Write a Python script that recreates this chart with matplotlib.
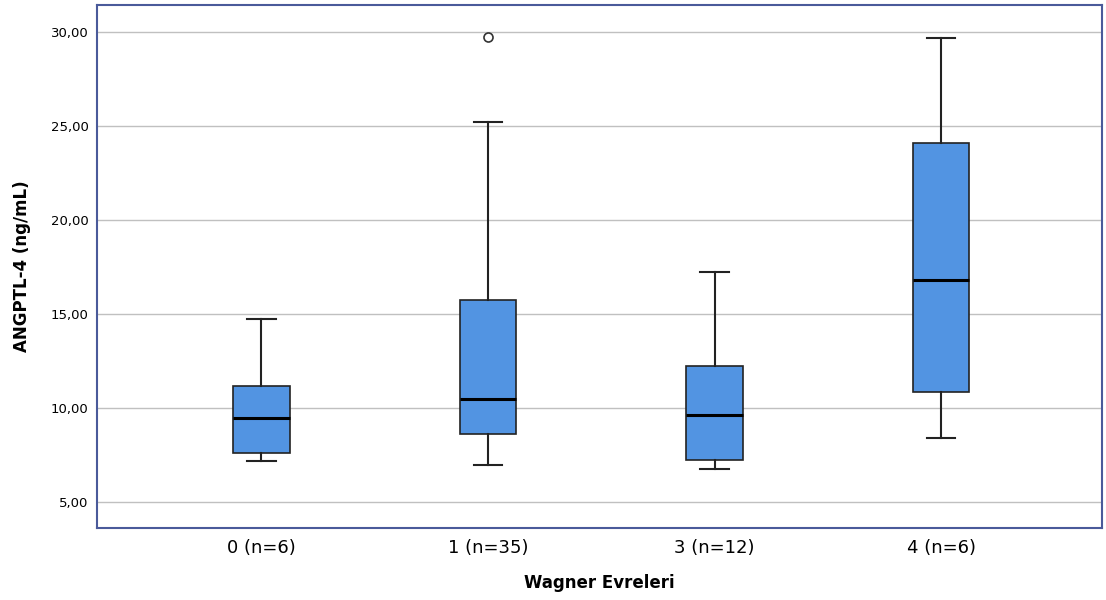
import matplotlib
matplotlib.use('Agg')
import matplotlib.pyplot as plt
from matplotlib.ticker import FuncFormatter

categories = ['0 (n=6)', '1 (n=35)', '3 (n=12)', '4 (n=6)']
whislo = [7.18, 6.97, 6.76, 8.40]
q1 = [7.60, 8.62, 7.23, 10.85]
med = [9.47, 10.48, 9.63, 16.81]
q3 = [11.17, 15.74, 12.23, 24.10]
whishi = [14.73, 25.21, 17.23, 29.68]
fliers = [[], [29.73], [], []]

stats = []
for i, lab in enumerate(categories):
    stats.append({'label': lab, 'whislo': whislo[i], 'q1': q1[i], 'med': med[i],
                  'q3': q3[i], 'whishi': whishi[i], 'fliers': fliers[i]})

fig = plt.figure(figsize=(11.06, 6), dpi=100)
ax = fig.add_axes([0.0877, 0.12, 0.9087, 0.8717])

positions = [1, 2, 3, 4]
ax.bxp(stats, positions=positions, widths=0.25, patch_artist=True,
       boxprops=dict(facecolor='#5294e2', edgecolor='#222222', linewidth=1.2),
       medianprops=dict(color='black', linewidth=2.2),
       whiskerprops=dict(color='#222222', linewidth=1.5),
       capprops=dict(color='#222222', linewidth=1.5),
       capwidths=0.125,
       flierprops=dict(marker='o', markerfacecolor='white', markeredgecolor='#333333',
                       markersize=6.5, markeredgewidth=1.2))

ax.set_xlim(0.274, 4.71)
ax.set_ylim(3.62, 31.44)
ax.set_yticks([5, 10, 15, 20, 25, 30])
ax.yaxis.set_major_formatter(FuncFormatter(lambda v, p: f'{v:.2f}'.replace('.', ',')))
ax.yaxis.grid(True, color='#c0c0c0', linewidth=1.0)
ax.set_axisbelow(True)
ax.tick_params(axis='both', length=0)
ax.tick_params(axis='y', labelsize=9.5, pad=6)
ax.tick_params(axis='x', labelsize=13, pad=8)
for s in ax.spines.values():
    s.set_color('#4a5a9a')
    s.set_linewidth(1.5)

ax.set_xlabel('Wagner Evreleri', fontsize=12, fontweight='bold', labelpad=12)
ax.set_ylabel('ANGPTL-4 (ng/mL)', fontsize=12, fontweight='bold', labelpad=14)

fig.savefig('out.png', dpi=100)
